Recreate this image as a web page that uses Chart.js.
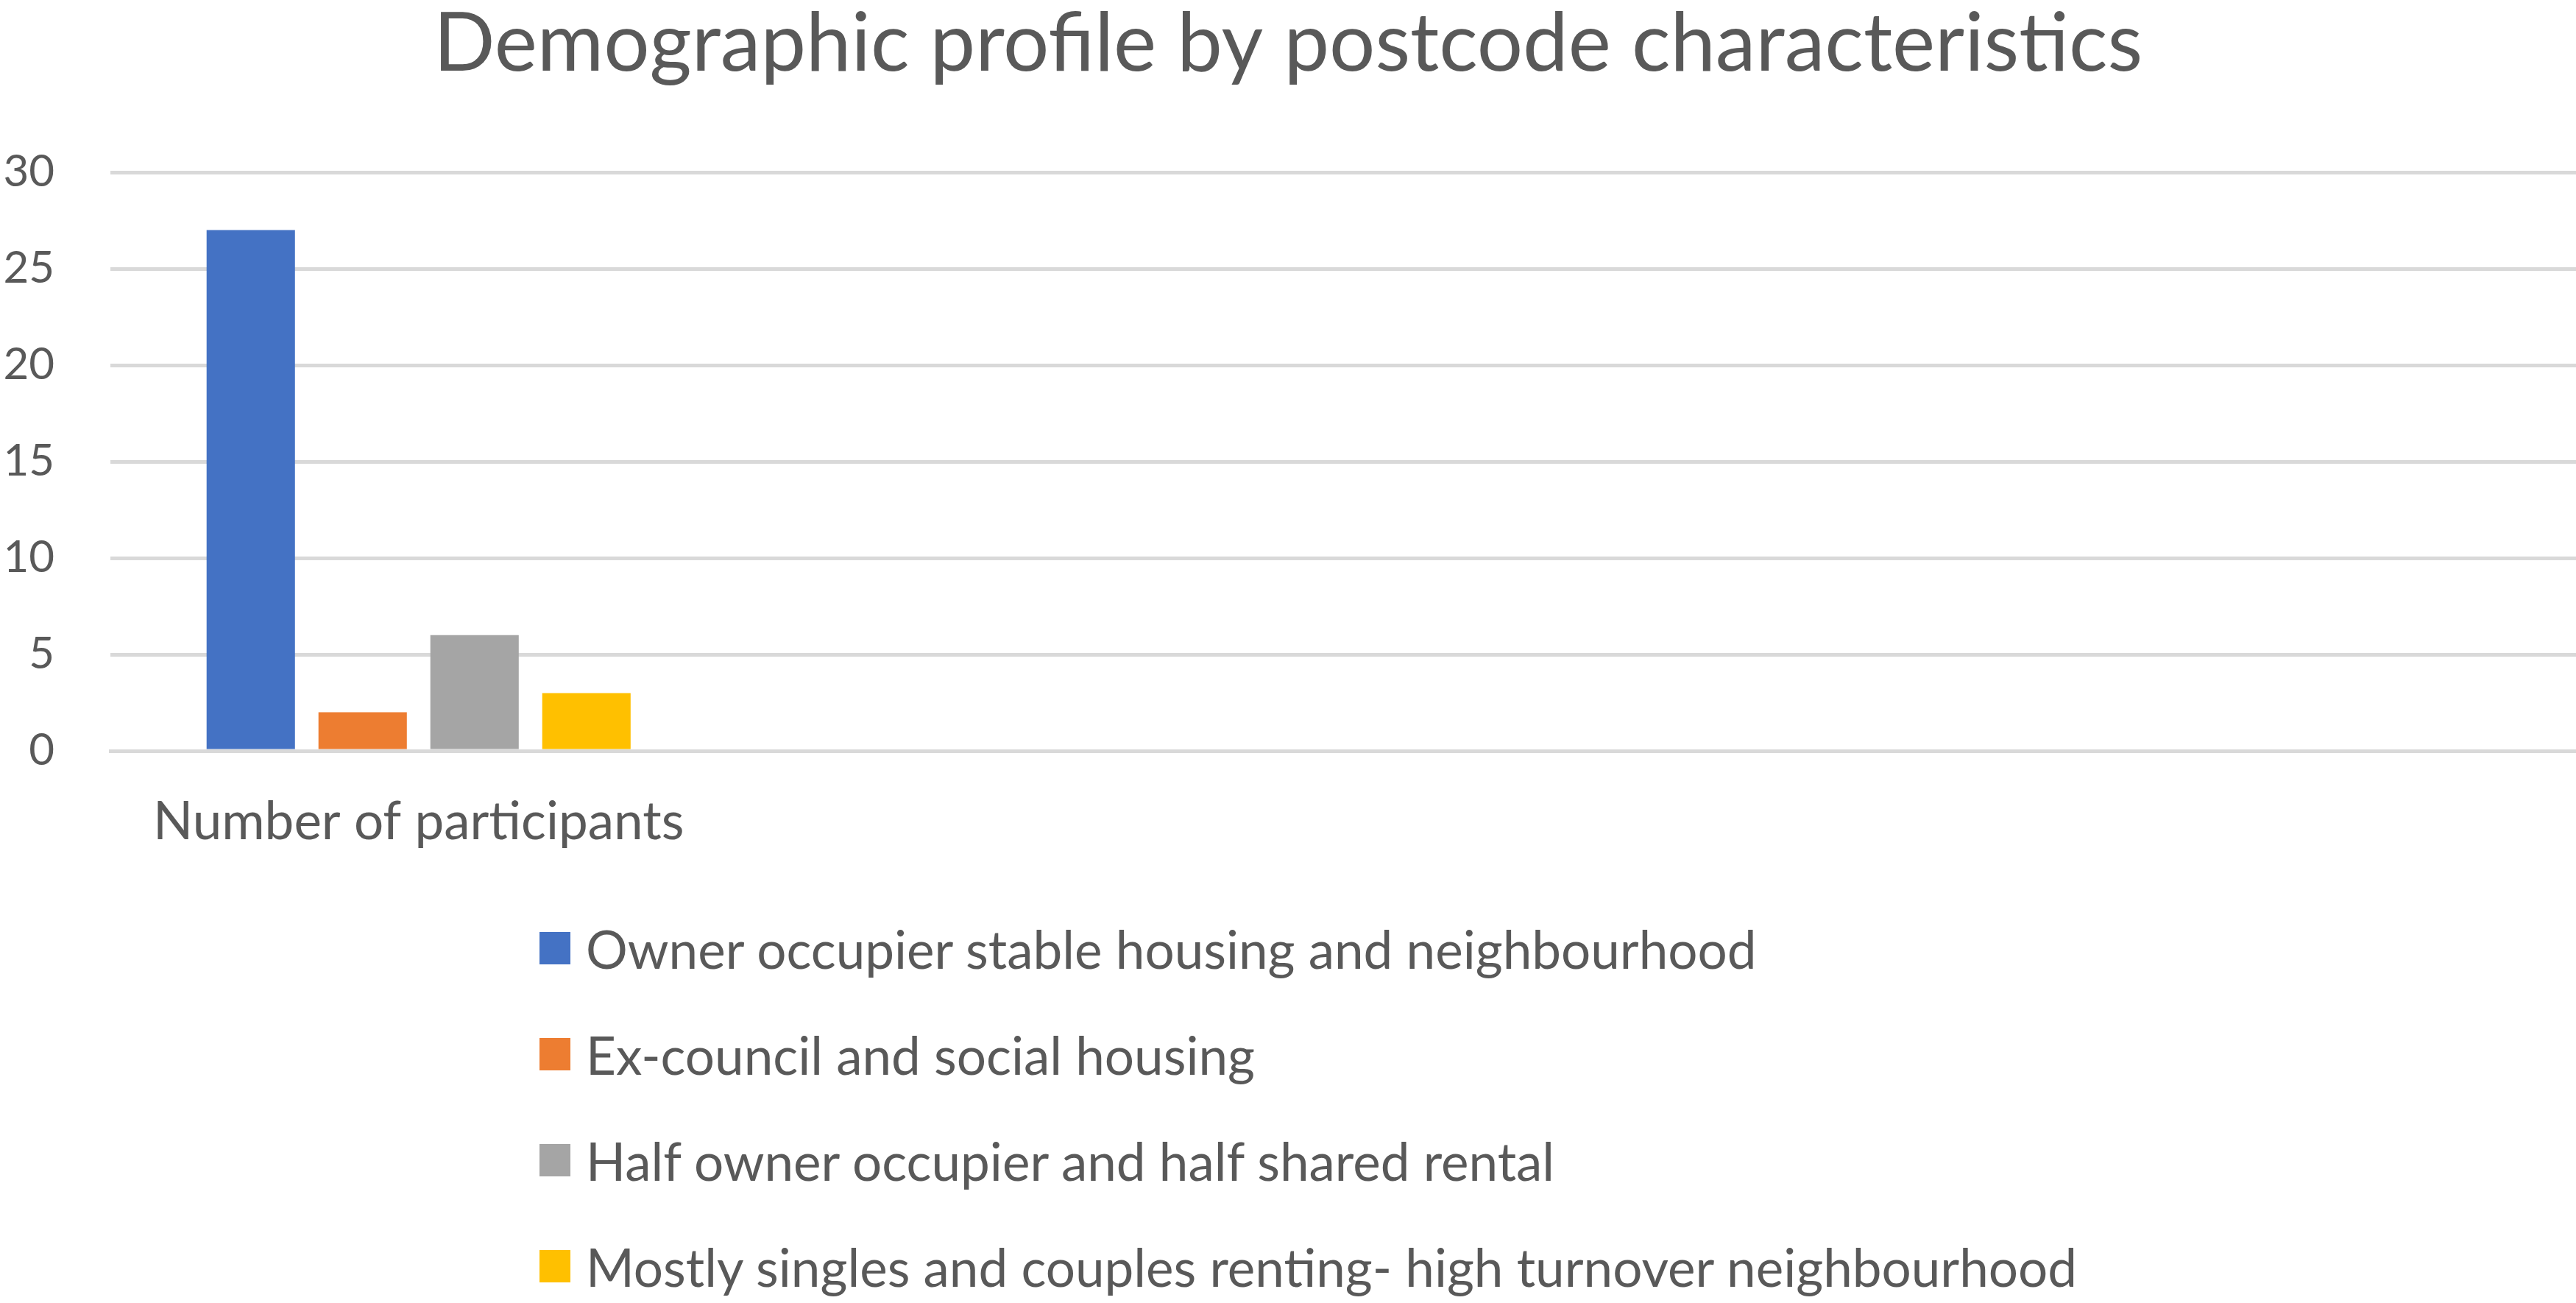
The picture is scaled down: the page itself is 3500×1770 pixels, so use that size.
<!DOCTYPE html>
<html>
<head>
<meta charset="utf-8">
<script src="https://cdn.jsdelivr.net/npm/chart.js@4"></script>
<style>
  html, body { margin: 0; padding: 0; background: #fff; }
  #wrap { position: relative; width: 3500px; height: 1770px; }
  #chart { display: block; }
  #legend {
    position: absolute; left: 733px; top: 1216px;
    margin: 0; padding: 0; list-style: none;
    font-family: Lato, sans-serif; font-size: 71px; color: #595959;
  }
  #legend li { display: flex; align-items: center; height: 144px; }
  #legend .box { width: 42px; height: 44px; margin-right: 21px; flex: none; }
</style>
</head>
<body>
<div id="wrap">
  <canvas id="chart" width="3500" height="1770"></canvas>
  <ul id="legend"></ul>
</div>
<script>
const TITLE       = 'Demographic profile by postcode characteristics';
const categories  = ['Number of participants', '', '', ''];
const seriesNames = [
  'Owner occupier stable housing and neighbourhood',
  'Ex-council and social housing',
  'Half owner occupier and half shared rental',
  'Mostly singles and couples renting- high turnover neighbourhood'
];
const ownerOccupier = [27, null, null, null];
const exCouncil     = [2, null, null, null];
const halfShared    = [6, null, null, null];
const mostlySingles = [3, null, null, null];
const yTicks        = [0, 5, 10, 15, 20, 25, 30];

const colors    = ['#4472C4', '#ED7D31', '#A5A5A5', '#FFC000'];
const textColor = '#595959';
const gridColor = '#D9D9D9';
const fontName  = 'Lato, sans-serif';

const seriesData = [ownerOccupier, exCouncil, halfShared, mostlySingles];

// html legend, one entry per line like the original
const htmlLegend = {
  id: 'htmlLegend',
  afterUpdate(chart) {
    const ul = document.querySelector('#legend');
    if (!ul) return;
    const items = chart.options.plugins.legend.labels.generateLabels(chart);
    ul.innerHTML = items.map(it => `
      <li><span class="box" style="background:${it.fillStyle}"></span><span>${it.text}</span></li>
    `).join('');
  }
};

new Chart(document.querySelector('#chart'), {
  type: 'bar',
  data: {
    labels: categories,
    datasets: seriesNames.map((name, i) => ({
      label: name,
      data: seriesData[i],
      backgroundColor: colors[i],
      borderWidth: 0,
      categoryPercentage: 0.726,
      barPercentage: 0.79
    }))
  },
  options: {
    responsive: false,
    animation: false,
    layout: { padding: { left: 0, right: 0, top: 0, bottom: 611 } },
    plugins: {
      legend: { display: false },
      tooltip: { enabled: false },
      title: {
        display: true,
        text: TITLE,
        color: textColor,
        font: { family: fontName, size: 110, weight: 'normal', lineHeight: 1.1 },
        padding: { top: 0, bottom: 113 }
      }
    },
    scales: {
      x: {
        afterFit: axis => { axis.height = 139; },
        grid: { display: false, drawTicks: false },
        border: { display: true, color: gridColor, width: 5 },
        ticks: {
          color: textColor, padding: 55, maxRotation: 0, autoSkip: false,
          font: { family: fontName, size: 71 }
        }
      },
      y: {
        min: 0,
        max: 30,
        afterBuildTicks: axis => { axis.ticks = yTicks.map(v => ({ value: v })); },
        afterFit: axis => { axis.width = 150; },
        grid: { color: gridColor, lineWidth: 5, drawTicks: false },
        border: { display: false },
        ticks: {
          color: textColor, padding: 76,
          font: { family: fontName, size: 60 }
        }
      }
    }
  },
  plugins: [htmlLegend]
});
</script>
</body>
</html>
